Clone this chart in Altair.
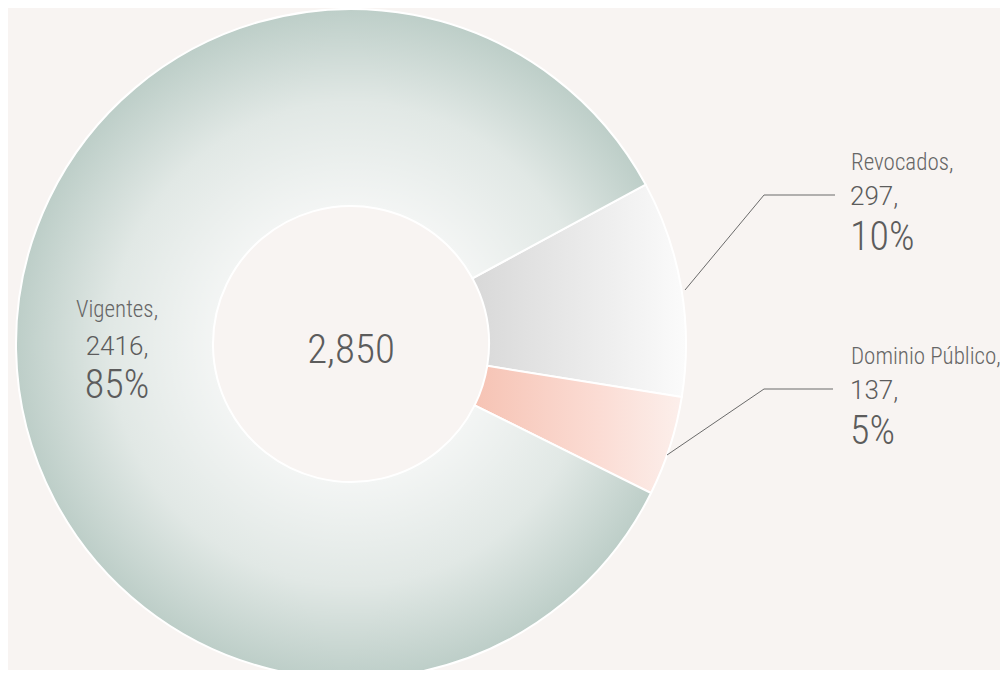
import altair as alt
import pandas as pd

# ---- data ----
categories = ["Revocados", "Dominio Público", "Vigentes"]
values = [297, 137, 2416]
pct_labels = ["10%", "5%", "85%"]
slice_order = [0, 1, 2]

df = pd.DataFrame({
    "category": categories,
    "value": values,
    "pct": pct_labels,
    "order": slice_order,
})
df["name_line"] = df["category"] + ","
df["value_line"] = df["value"].astype(str) + ","

# ---- layout constants ----
W, H = 992, 662
CX, CY = 343, 336
R_OUT, R_IN = 335, 138
START = 1.075  # radians, clockwise from 12 o'clock
TWO_PI = 6.283185307179586
BG = "#f8f4f2"
NARROW = "Roboto Condensed, Liberation Sans Narrow, Arial Narrow, Liberation Sans, sans-serif"
WIDE = "Roboto, Open Sans, Liberation Sans, sans-serif"
TXT = "#5c5c5c"

theta_scale = alt.Scale(domain=[0, 1], range=[START, START + TWO_PI])

fills = {
    "Vigentes": {
        "gradient": "radial", "x1": 0.527, "y1": 0.5, "r1": 0,
        "x2": 0.527, "y2": 0.5, "r2": 0.5,
        "stops": [
            {"offset": 0.0, "color": "#ffffff"},
            {"offset": 0.41, "color": "#f3f5f4"},
            {"offset": 0.72, "color": "#e1e8e5"},
            {"offset": 1.0, "color": "#bdcec8"},
        ],
    },
    "Revocados": {
        "gradient": "linear", "x1": 0, "y1": 0, "x2": 1, "y2": 0,
        "stops": [
            {"offset": 0.0, "color": "#d8d8d8"},
            {"offset": 1.0, "color": "#fbfbfb"},
        ],
    },
    "Dominio Público": {
        "gradient": "linear", "x1": 0, "y1": 0, "x2": 1, "y2": 0,
        "stops": [
            {"offset": 0.0, "color": "#f6c3b4"},
            {"offset": 0.6, "color": "#fbdcd4"},
            {"offset": 1.0, "color": "#fcefeb"},
        ],
    },
}

base = alt.Chart(df).transform_stack(
    stack="value", as_=["s0", "s1"], groupby=[], offset="normalize",
    sort=[alt.SortField("order", order="ascending")],
).transform_calculate(mid="(datum.s0 + datum.s1) / 2")

layers = []
for cat in categories:
    layers.append(
        base.transform_filter(alt.datum.category == cat)
        .mark_arc(innerRadius=R_IN, outerRadius=R_OUT, fill=fills[cat],
                  stroke="white", strokeWidth=2)
        .encode(
            theta=alt.Theta("s0:Q", scale=theta_scale),
            theta2="s1:Q",
            x=alt.value(CX), y=alt.value(CY),
        )
    )

# center total
center = alt.Chart(df).transform_aggregate(total="sum(value)").mark_text(
    font=NARROW, fontSize=41, color=TXT, align="center", baseline="alphabetic",
    fontWeight=300,
).encode(text=alt.Text("total:Q", format=","), x=alt.value(CX), y=alt.value(CY + 19))

# inside label for the large slice (polar positioning)
inside = base.transform_filter(alt.datum.category == "Vigentes")
inside_specs = [("name_line", 23, -31, NARROW, "#666666"),
                ("value_line", 26, 7, WIDE, TXT),
                ("pct", 40, 50, NARROW, TXT)]
for field, size, dy, font, col in inside_specs:
    layers.append(
        inside.mark_text(font=font, fontSize=size, color=col, align="center",
                         baseline="alphabetic", dy=dy, fontWeight=300)
        .encode(theta=alt.Theta("mid:Q", scale=theta_scale), radius=alt.value(234),
                x=alt.value(CX), y=alt.value(CY), text=f"{field}:N")
    )

# outside labels (layout positions)
label_pos = {"Revocados": (843, 162), "Dominio Público": (843, 356)}
line_offsets = [(0, 23, NARROW, "#666666", "name_line"),
                (35, 26, WIDE, TXT, "value_line"),
                (80, 40, NARROW, TXT, "pct")]
for cat, (lx, ly) in label_pos.items():
    sub = alt.Chart(df).transform_filter(alt.datum.category == cat)
    for off, size, font, col, field in line_offsets:
        layers.append(
            sub.mark_text(font=font, fontSize=size, color=col, align="left",
                          baseline="alphabetic", fontWeight=300)
            .encode(x=alt.value(lx - 1 if field != "name_line" else lx),
                    y=alt.value(ly + off), text=f"{field}:N")
        )

# leader lines (layout geometry)
leader_cat, leader_step, leader_x, leader_y = [], [], [], []
leader_geom = {
    "Revocados": [(677, 282), (756, 187), (827, 187)],
    "Dominio Público": [(659, 447), (756, 381), (825, 381)],
}
for cat, pts in leader_geom.items():
    for i, (px, py) in enumerate(pts):
        leader_cat.append(cat); leader_step.append(i)
        leader_x.append(px); leader_y.append(py)
leaders_df = pd.DataFrame({"category": leader_cat, "step": leader_step,
                           "px": leader_x, "py": leader_y})
leaders = alt.Chart(leaders_df).mark_line(color="#6a6a6a", strokeWidth=1).encode(
    x=alt.X("px:Q", scale=None, axis=None),
    y=alt.Y("py:Q", scale=None, axis=None),
    detail="category:N",
    order="step:Q",
)

chart = alt.layer(*layers, center, leaders).properties(
    width=W, height=H, background=BG,
    autosize=alt.AutoSizeParams(type="none"),
    padding=0,
).configure_view(stroke=None)

chart.save("out.html", embed_options={"renderer": "svg", "actions": False})
